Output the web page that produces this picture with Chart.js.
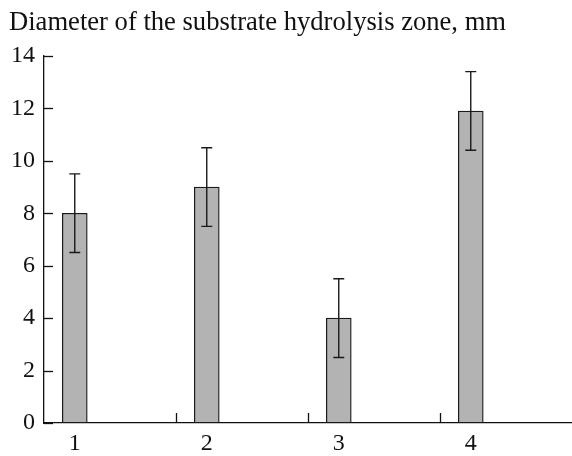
<!DOCTYPE html>
<html>
<head>
<meta charset="utf-8">
<script src="https://cdn.jsdelivr.net/npm/chart.js@4"></script>
<style>
    html, body { margin: 0; padding: 0; background: #fff; }
    #wrap { width: 572px; height: 456px; }
</style>
</head>
<body>
<div id="wrap"><canvas id="chart" width="572" height="456"></canvas></div>
<script>
// Data
const categoryLabels = ['1', '2', '3', '4'];
const categoryPos = [1, 2, 3, 4];
const zoneDiameter = [8, 9, 4, 11.9];
const zoneError = [1.5, 1.5, 1.5, 1.5];
const yTicks = [0, 2, 4, 6, 8, 10, 12, 14];

const titleText = 'Diameter of the substrate hydrolysis zone, mm';
const serif = "'Liberation Serif', 'DejaVu Serif', serif";

// Inward tick marks, minor x ticks and error bars
const extrasPlugin = {
    id: 'extras',
    afterDatasetsDraw(chart) {
        const ctx = chart.ctx;
        const x = chart.scales.x;
        const y = chart.scales.y;
        ctx.save();
        ctx.strokeStyle = '#111';
        ctx.lineWidth = 1.3;

        // y ticks pointing into the plot
        yTicks.forEach(v => {
            const py = Math.round(y.getPixelForValue(v)) + 0.5;
            ctx.beginPath();
            ctx.moveTo(x.left, py);
            ctx.lineTo(x.left + 9, py);
            ctx.stroke();
        });

        // small upward ticks along the x axis
        const step = x.width / 4;
        for (let k = 1; k <= 3; k++) {
            const px = Math.round(x.left + k * step) + 0.5;
            ctx.beginPath();
            ctx.moveTo(px, y.bottom);
            ctx.lineTo(px, y.bottom - 10);
            ctx.stroke();
        }

        // error bars
        ctx.strokeStyle = '#1a1a1a';
        ctx.lineWidth = 1.4;
        categoryPos.forEach((c, i) => {
            const px = x.getPixelForValue(c);
            const top = y.getPixelForValue(zoneDiameter[i] + zoneError[i]);
            const bot = y.getPixelForValue(zoneDiameter[i] - zoneError[i]);
            ctx.beginPath();
            ctx.moveTo(px, top);
            ctx.lineTo(px, bot);
            ctx.moveTo(px - 5.5, top);
            ctx.lineTo(px + 5.5, top);
            ctx.moveTo(px - 5.5, bot);
            ctx.lineTo(px + 5.5, bot);
            ctx.stroke();
        });
        ctx.restore();
    }
};

const chart = new Chart(document.getElementById('chart').getContext('2d'), {
    type: 'bar',
    data: {
        datasets: [{
            data: categoryPos.map((c, i) => ({ x: c, y: zoneDiameter[i] })),
            backgroundColor: '#b3b3b3',
            borderColor: '#1a1a1a',
            borderWidth: 1.3,
            borderSkipped: false,
            barThickness: 25
        }]
    },
    options: {
        responsive: false,
        animation: false,
        devicePixelRatio: 1,
        layout: { padding: { left: 9, right: 0, top: 0, bottom: 0 } },
        plugins: {
            legend: { display: false },
            tooltip: { enabled: false },
            title: {
                display: true,
                text: titleText,
                align: 'start',
                color: '#111',
                font: { family: serif, size: 26.6, weight: 'normal', lineHeight: 1.2 },
                padding: { top: 7, bottom: 17 }
            }
        },
        scales: {
            x: {
                type: 'linear',
                offset: false,
                min: 0.767,
                max: 4.767,
                afterBuildTicks: scale => {
                    scale.ticks = categoryPos.map(v => ({ value: v }));
                },
                afterFit: scale => { scale.height = 33; },
                grid: { display: false, drawTicks: false, offset: false },
                border: { display: true, color: '#111', width: 1.3 },
                ticks: {
                    padding: 6,
                    color: '#111',
                    font: { family: serif, size: 24 },
                    callback: (value, index) => categoryLabels[index]
                }
            },
            y: {
                min: 0,
                max: 14,
                afterBuildTicks: scale => {
                    scale.ticks = yTicks.map(v => ({ value: v }));
                },
                afterFit: scale => { scale.width = 35; },
                grid: { display: false, drawTicks: false },
                border: { display: true, color: '#111', width: 1.3 },
                ticks: {
                    padding: 9,
                    color: '#111',
                    font: { family: serif, size: 24 }
                }
            }
        }
    },
    plugins: [extrasPlugin]
});
</script>
</body>
</html>
